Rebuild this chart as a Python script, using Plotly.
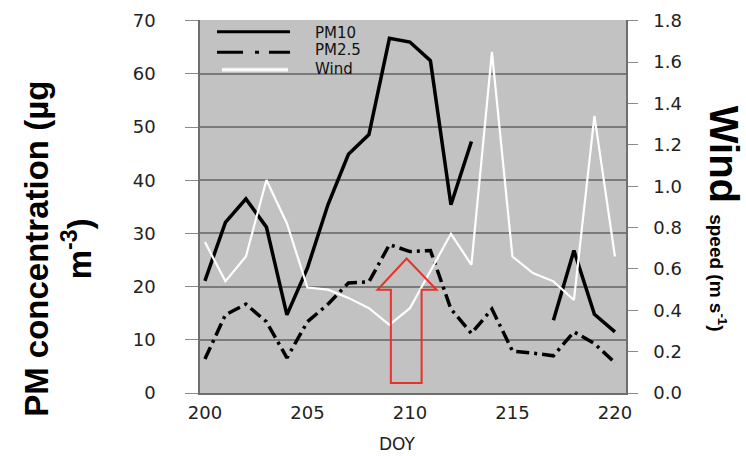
import plotly.graph_objects as go

DAYS = list(range(200, 221))
PM10 = [21.1, 32.1, 36.5, 31.2, 14.7, 23.5, 35.4, 44.9, 48.6, 66.7, 66.0, 62.5, 35.4, 47.3,
        None, None, None, 13.7, 26.8, 14.8, 11.5]
PM25 = [6.4, 14.7, 16.7, 13.4, 6.6, 13.4, 16.7, 20.7, 20.9, 27.9, 26.6, 26.8, 15.8, 11.2,
        15.8, 7.9, 7.5, 7.0, 11.5, 9.3, 5.7]
WIND = [0.73, 0.54, 0.66, 1.03, 0.82, 0.51, 0.50, 0.46, 0.41, 0.33, 0.41, 0.59, 0.77, 0.62,
        1.65, 0.66, 0.58, 0.54, 0.45, 1.34, 0.66]
X_TICKS = [200, 205, 210, 215, 220]
PM_TICKS = [0, 10, 20, 30, 40, 50, 60, 70]
WIND_TICKS = [0.0, 0.2, 0.4, 0.6, 0.8, 1.0, 1.2, 1.4, 1.6, 1.8]
SERIES_NAMES = ["PM10", "PM2.5", "Wind"]

TICK_FONT = dict(family="DejaVu Sans", size=18, color="#222222")
PM25_DASH = "13px,5px,3px,5px"

fig = go.Figure()
fig.add_trace(go.Scatter(x=DAYS, y=PM10, mode="lines", name=SERIES_NAMES[0],
                         line=dict(color="black", width=3.5), showlegend=False))
fig.add_trace(go.Scatter(x=DAYS, y=PM25, mode="lines", name=SERIES_NAMES[1],
                         line=dict(color="black", width=3.5, dash=PM25_DASH), showlegend=False))
fig.add_trace(go.Scatter(x=DAYS, y=WIND, mode="lines", name=SERIES_NAMES[2], yaxis="y2",
                         line=dict(color="white", width=2.2), showlegend=False))

# red arrow pointing at DOY 210
ax0, ax1, hx0, hx1, tipx = 209.07, 210.57, 208.42, 211.30, 209.84
yb, yh, yt = 1.9, 19.4, 25.3
fig.add_shape(type="path", xref="x", yref="y",
              path=f"M {ax0},{yb} L {ax0},{yh} L {hx0},{yh} L {tipx},{yt} L {hx1},{yh} "
                   f"L {ax1},{yh} L {ax1},{yb} Z",
              line=dict(color="#e8312a", width=2), fillcolor="rgba(0,0,0,0)")

# manual legend (paper coords)
W, H = 746, 456
L, R, T, B = 200, 120, 10, 63
pw, ph = W - L - R, H - T - B
def px(xp):
    return (xp - L) / pw
def py(yp):
    return 1 - (yp - T) / ph

fig.add_shape(type="line", xref="paper", yref="paper", x0=px(217), x1=px(290), y0=py(22), y1=py(22),
              line=dict(color="black", width=3))
fig.add_shape(type="line", xref="paper", yref="paper", x0=px(217), x1=px(290), y0=py(43), y1=py(43),
              line=dict(color="black", width=3, dash="26px,12px,4px,10px"))
fig.add_shape(type="line", xref="paper", yref="paper", x0=px(222), x1=px(288), y0=py(61), y1=py(61),
              line=dict(color="#e8e8e8", width=4))
fig.add_shape(type="line", xref="paper", yref="paper", x0=px(222), x1=px(288), y0=py(61), y1=py(61),
              line=dict(color="white", width=2))
for name, yy in zip(SERIES_NAMES, [23, 41, 60]):
    fig.add_annotation(xref="paper", yref="paper", x=px(313), y=py(yy), text=name,
                       showarrow=False, xanchor="left", yanchor="middle",
                       font=dict(family="DejaVu Sans", size=15, color="#111111"))

# axis titles
fig.add_annotation(xref="paper", yref="paper", x=px(58), y=py(245),
                   text="PM concentration (µg<br>m<sup>-3</sup>)", textangle=-90,
                   showarrow=False, xanchor="center", yanchor="middle",
                   font=dict(family="Liberation Sans", size=33, color="black", weight="bold"))
fig.add_annotation(xref="paper", yref="paper", x=px(724), y=py(214),
                   text="Wind <span style=\"font-size:19px\">speed (m s<sup>-1</sup>)</span>",
                   textangle=90, showarrow=False, xanchor="center", yanchor="middle",
                   font=dict(family="Liberation Sans", size=40, color="black", weight="bold"))
fig.add_annotation(xref="paper", yref="paper", x=px(397), y=py(445), text="DOY",
                   showarrow=False, xanchor="center", yanchor="middle",
                   font=dict(family="DejaVu Sans", size=17, color="#222222"))

fig.update_layout(
    width=W, height=H,
    margin=dict(l=L, r=R, t=T, b=B),
    paper_bgcolor="white",
    plot_bgcolor="#c2c2c2",
    showlegend=False,
    xaxis=dict(range=[199.76, 220.54], tickvals=X_TICKS, ticks="", showgrid=False,
               showline=True, linecolor="#6e6e6e", linewidth=1.5, zeroline=False,
               tickfont=TICK_FONT, ticklabelstandoff=3),
    yaxis=dict(range=[0, 70.15], tickvals=PM_TICKS, ticks="outside", ticklen=13, tickcolor="#8a8a8a",
               showgrid=True, gridcolor="#7a7a7a", gridwidth=1.5, zeroline=False,
               showline=True, linecolor="#6e6e6e", linewidth=1.5,
               tickfont=TICK_FONT, ticklabelstandoff=26),
    yaxis2=dict(range=[0, 1.8039], tickvals=WIND_TICKS, tickformat=".1f", overlaying="y", side="right",
                ticks="outside", ticklen=10, tickcolor="#8a8a8a", showgrid=False, zeroline=False,
                showline=True, linecolor="#6e6e6e", linewidth=1.5,
                tickfont=TICK_FONT, ticklabelstandoff=12),
)

fig.write_html("out.html", config={"displayModeBar": False},
               post_script="document.body.style.margin='0px';")
